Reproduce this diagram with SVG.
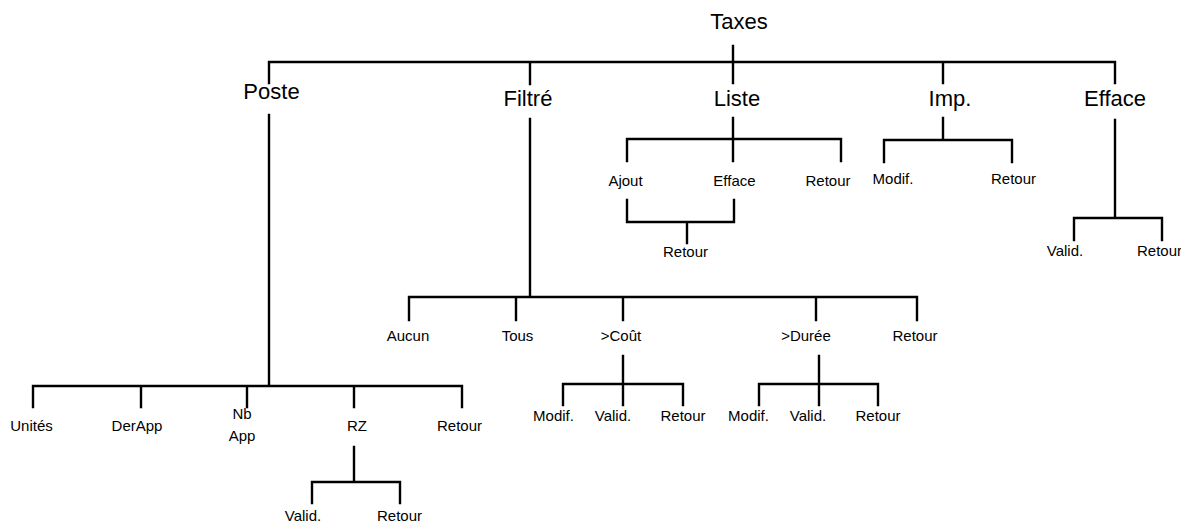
<svg xmlns="http://www.w3.org/2000/svg" width="1181" height="523" viewBox="0 0 1181 523">
<style>
.big{font-family:"Liberation Sans",Arial,sans-serif;font-size:22px;fill:#000;text-anchor:middle}
.sm{font-family:"Liberation Sans",Arial,sans-serif;font-size:15px;fill:#000;text-anchor:middle}
.c path{fill:none;stroke:#000;stroke-width:2.4;stroke-linecap:square;stroke-linejoin:miter}
</style>
<rect width="1181" height="523" fill="#fff"/>
<g class="c" id="connectors">
<path d="M733,46 V62 M269,83 V62 H1115 V83 M530,62 V84 M733,62 V83 M943,62 V83"/>
<path d="M269,115 V386 M33,407 V386 H462 V407 M141,386 V407 M247,386 V407 M354,386 V407"/>
<path d="M354,447 V482 M312,503 V482 H400 V503"/>
<path d="M530,119 V297 M409,320 V297 H917 V320 M516,297 V320 M623,297 V320 M816,297 V320"/>
<path d="M623,356 V384 M563,405 V384 H683 V405 M623,384 V405"/>
<path d="M819,356 V384 M759,405 V384 H878 V405 M819,384 V405"/>
<path d="M733,118 V139 M627,161 V139 H841 V161 M733,139 V161"/>
<path d="M627,200 V222 H734 V200 M687,222 V243"/>
<path d="M943,118 V140 M884,162 V140 H1012 V162"/>
<path d="M1115,120 V218 M1074,240 V218 H1162 V240"/>
</g>
<g id="taxes"><text class="big" x="739" y="29">Taxes</text></g>
<g id="poste"><text class="big" x="271.5" y="99">Poste</text></g>
<g id="filtre"><text class="big" x="528" y="106">Filtré</text></g>
<g id="liste"><text class="big" x="737" y="106">Liste</text></g>
<g id="imp"><text class="big" x="950" y="106">Imp.</text></g>
<g id="efface"><text class="big" x="1115" y="106">Efface</text></g>
<g id="liste-ajout"><text class="sm" x="625.5" y="186">Ajout</text></g>
<g id="liste-efface"><text class="sm" x="734.5" y="186">Efface</text></g>
<g id="liste-retour"><text class="sm" x="828" y="186">Retour</text></g>
<g id="liste-ae-retour"><text class="sm" x="685.5" y="257">Retour</text></g>
<g id="imp-modif"><text class="sm" x="893" y="184">Modif.</text></g>
<g id="imp-retour"><text class="sm" x="1013.5" y="184">Retour</text></g>
<g id="efface-valid"><text class="sm" x="1065" y="256">Valid.</text></g>
<g id="efface-retour"><text class="sm" x="1137" y="256" style="text-anchor:start">Retour</text></g>
<g id="filtre-aucun"><text class="sm" x="408" y="341">Aucun</text></g>
<g id="filtre-tous"><text class="sm" x="517.5" y="341">Tous</text></g>
<g id="filtre-cout"><text class="sm" x="621" y="341">&gt;Coût</text></g>
<g id="filtre-duree"><text class="sm" x="806" y="341">&gt;Durée</text></g>
<g id="filtre-retour"><text class="sm" x="915" y="341">Retour</text></g>
<g id="cout-modif"><text class="sm" x="553.5" y="421">Modif.</text></g>
<g id="cout-valid"><text class="sm" x="613" y="421">Valid.</text></g>
<g id="cout-retour"><text class="sm" x="683" y="421">Retour</text></g>
<g id="duree-modif"><text class="sm" x="748.5" y="421">Modif.</text></g>
<g id="duree-valid"><text class="sm" x="808" y="421">Valid.</text></g>
<g id="duree-retour"><text class="sm" x="878" y="421">Retour</text></g>
<g id="poste-unites"><text class="sm" x="31.5" y="431">Unités</text></g>
<g id="poste-derapp"><text class="sm" x="137" y="431">DerApp</text></g>
<g id="poste-nbapp"><text class="sm" x="242" y="419">Nb</text><text class="sm" x="242" y="441">App</text></g>
<g id="poste-rz"><text class="sm" x="357" y="431">RZ</text></g>
<g id="poste-retour"><text class="sm" x="459.5" y="431">Retour</text></g>
<g id="rz-valid"><text class="sm" x="303" y="521">Valid.</text></g>
<g id="rz-retour"><text class="sm" x="399.5" y="521">Retour</text></g>
</svg>
